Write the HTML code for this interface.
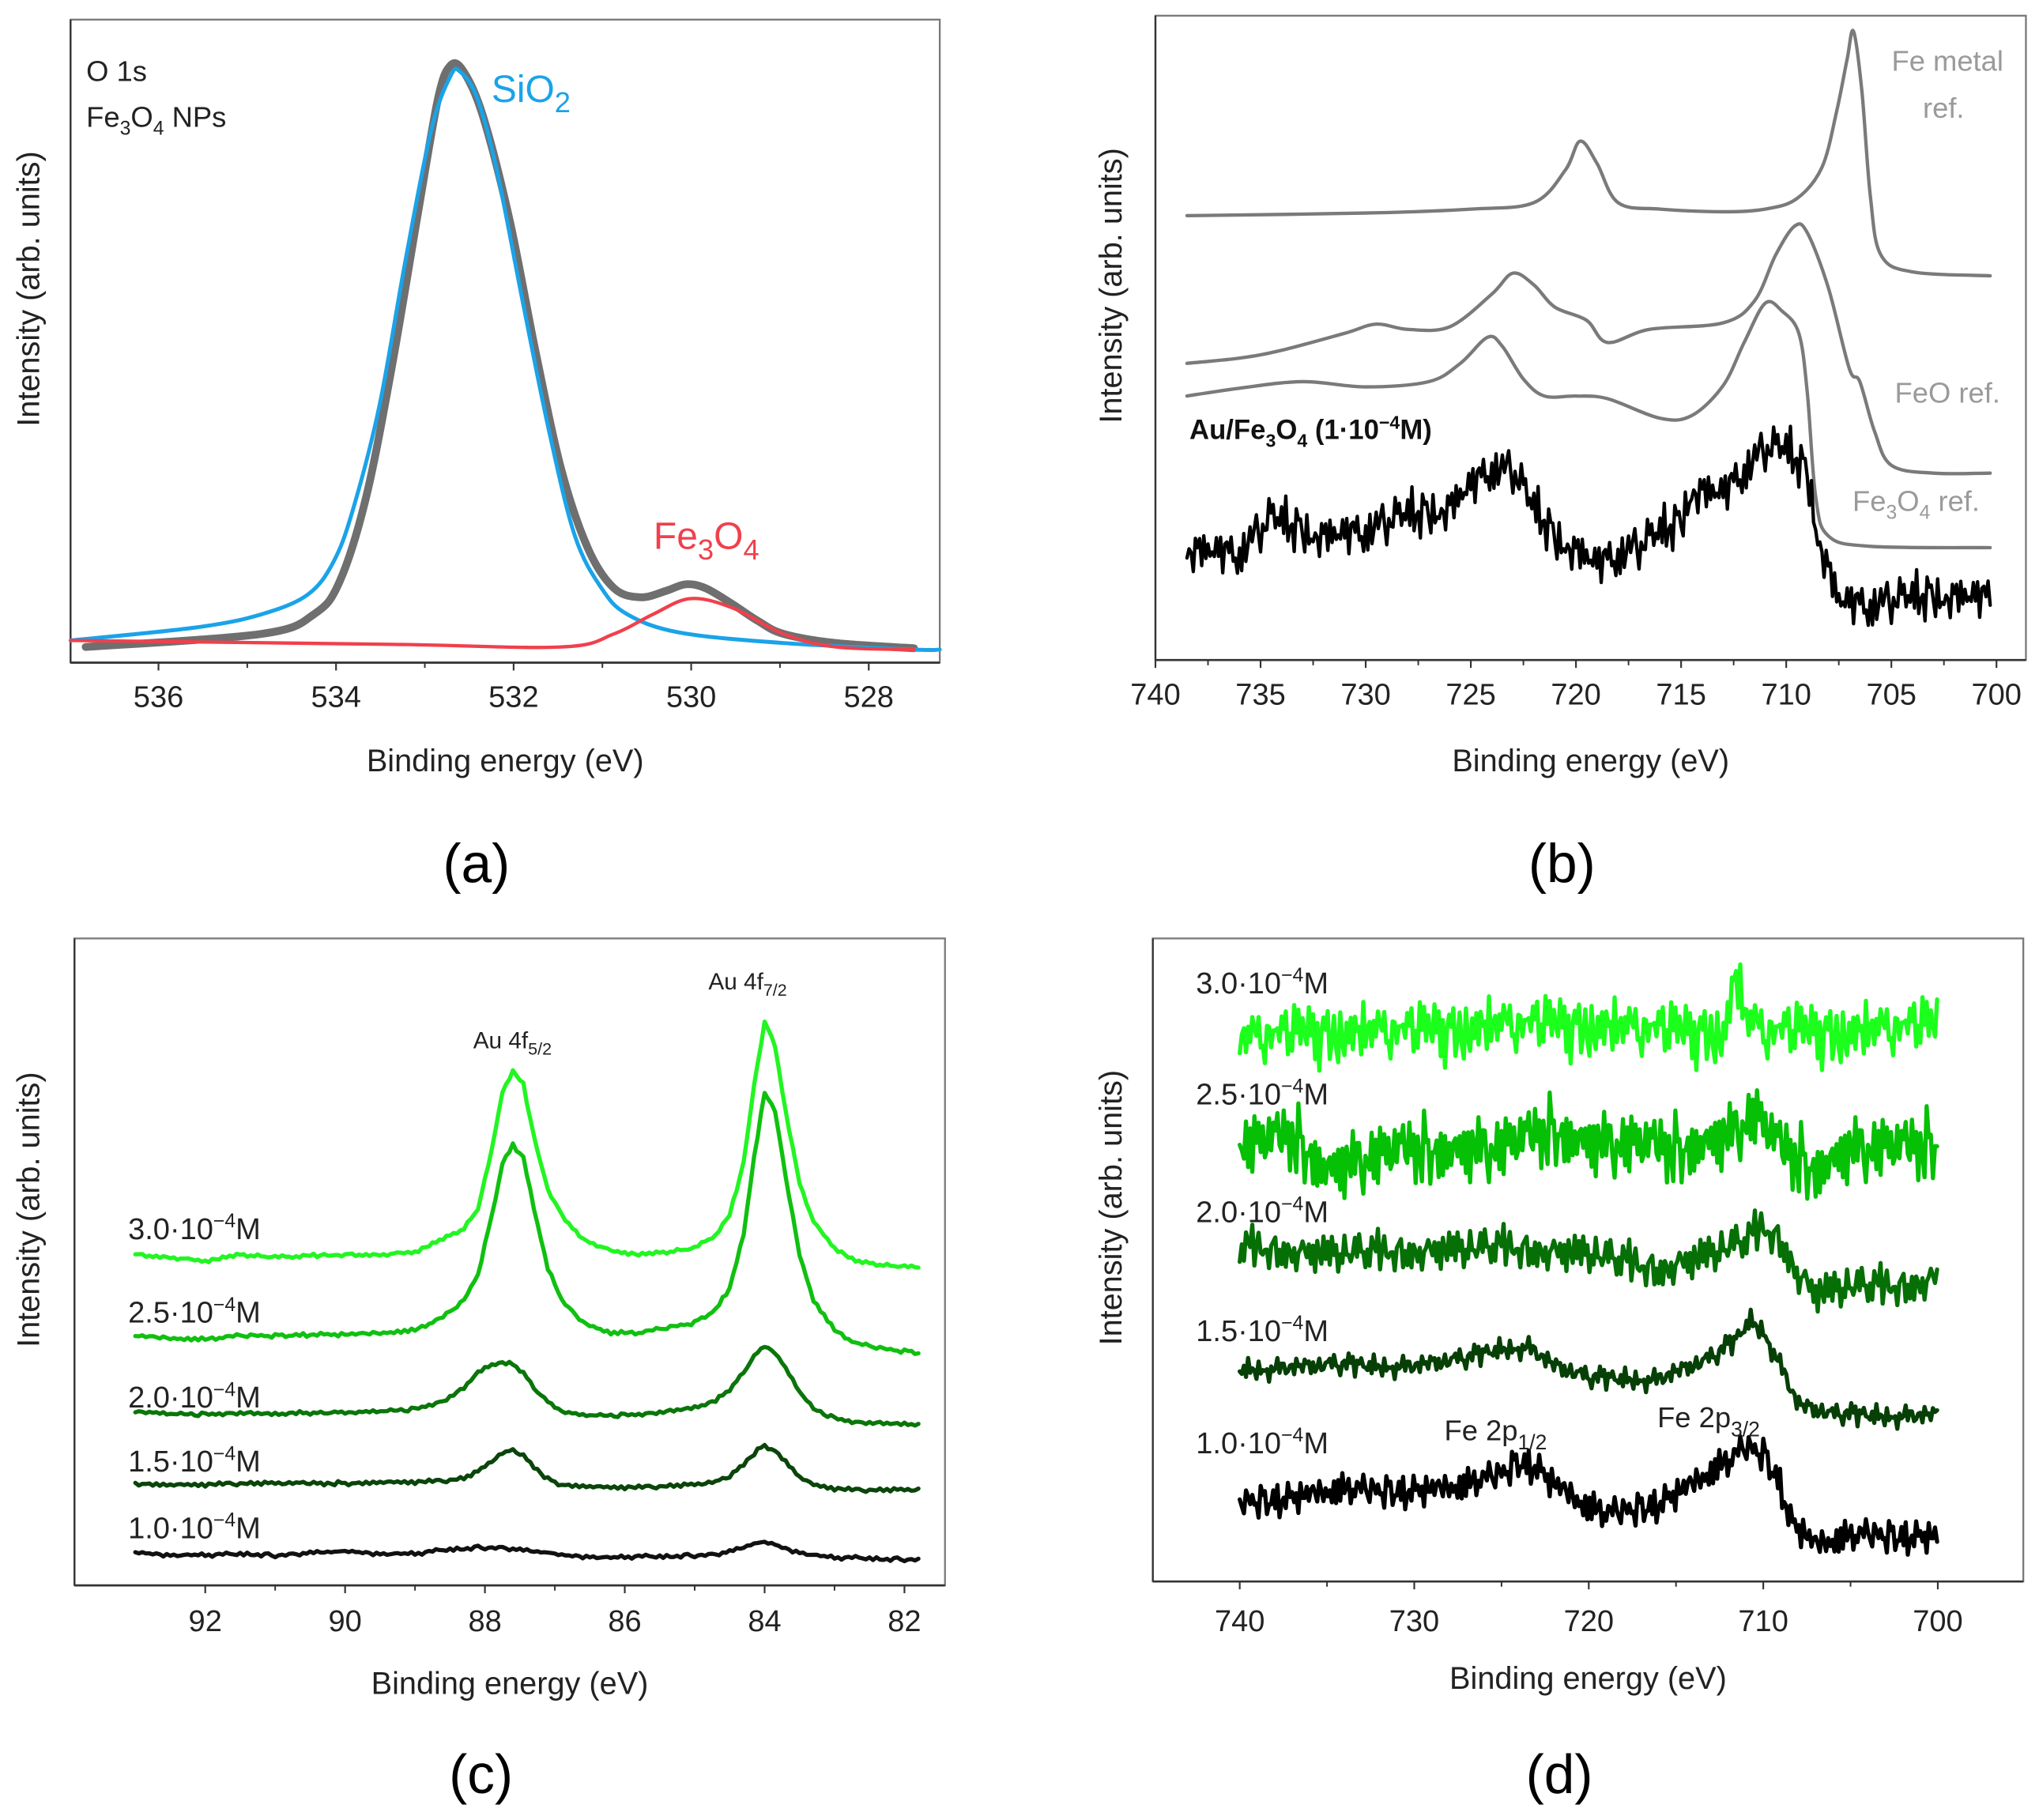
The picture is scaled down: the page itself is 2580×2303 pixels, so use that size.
<!DOCTYPE html>
<html><head><meta charset="utf-8">
<style>
html,body{margin:0;padding:0;background:#fff;}
svg{display:block;}
text{font-family:"Liberation Sans",sans-serif;}
</style></head>
<body>
<svg id="fig" width="2580" height="2303" viewBox="0 0 1560 1392.5" xmlns="http://www.w3.org/2000/svg">
<rect x="0" y="0" width="1560" height="1392.5" fill="#fff"/>
</svg>
<script>
// ---------- Panel (a) data ----------
const aTicks = [536, 534, 532, 530, 528];
const aGrayE = [536.82,534.84,534.25,533.96,533.66,533.37,533.07,532.85,532.71,532.56,532.34,532.04,531.75,531.46,531.16,530.87,530.57,530.28,530.06,529.84,529.54,529.25,528.96,528.37,527.49];
const aGrayV = [12,22,37,62,127,227,347,432,457,452,417,337,237,147,87,57,50,55,60,57,45,32,22,15,11];
const aBlueE = [536.99,535.57,534.84,534.32,534.03,533.81,533.51,533.22,532.93,532.71,532.6,532.41,532.19,531.9,531.6,531.31,531.01,530.72,530.13,528.96,527.49,527.2];
const aBlueV = [17,27,37,52,77,117,197,307,407,449,452,432,377,277,177,97,57,37,23,15,10,10];
const aRedE = [536.99,533.37,531.46,530.87,530.43,530.01,529.54,528.96,528.37,527.49];
const aRedV = [17,14,12,22,37,49,42,22,12,10];

// ---------- Panel (b) data ----------
const bTicks = [740,735,730,725,720,715,710,705,700];
const bMetalE = [738.5,730,725,722,720.5,719.8,719,718,716,713,711,709.5,708.3,707.6,707.1,706.8,706.4,706,705.5,704,700.3];
const bMetalV = [340,342,345,350,375,397,380,350,345,343,345,353,377,420,460,481,435,355,310,297,294];
const bFeOE = [738.5,736,734,731,729.5,728,726,724,723,722,721,719.5,718.5,716.5,713,711.5,710.5,709.6,709,708,707,706.5,705.8,705,703,700.3];
const bFeOV = [227,231,237,250,257,253,255,280,296,287,270,260,243,253,258,275,310,332,327,285,223,213,175,149,143,143];
const bMagE = [738.5,736,733,730,727,725.5,724.2,723.5,722.5,721.5,720,718.5,716,714.5,713,712,711,710.2,709.4,709,708.6,708,706,700.3];
const bMagV = [202,208,213,209,213,227,247,240,215,202,202,200,185,187,210,243,273,267,250,205,125,95,87,86];
const bSampleE = [738.5,736,734.5,732,730,728,726,725,724,723,722,721,719,717,715,714.5,713,711,710,709,708.5,707.5,706,703,700.3];
const bSampleV = [85,80,107,95,97,110,117,133,145,143,115,95,73,85,107,130,127,160,160,145,95,45,40,50,47];

// ---------- Panel (c) data ----------
const cTicks = [92,90,88,86,84,82];
const cE = [93,92.5,92,91.5,91,90.5,90,89.5,89,88.6,88.3,88.1,87.9,87.75,87.6,87.45,87.3,87.1,86.9,86.6,86.2,85.8,85.4,85,84.7,84.5,84.3,84.15,84,83.85,83.7,83.5,83.3,83,82.7,82.3,81.8];
const c30 = [253,251,248,253,251,252,253,253,255,265,273,288,333,378,393,383,343,303,283,265,256,253,255,258,268,283,323,383,431,413,363,308,278,258,248,245,243];
const c25 = [191,189,188,191,191,192,192,193,195,205,218,238,283,323,337,328,288,243,218,201,193,193,197,201,211,228,268,328,377,363,313,253,218,195,185,181,178];
const c20 = [133,131,131,132,131,132,132,133,135,141,151,163,169,170,169,163,151,140,133,130,130,131,133,136,141,150,163,175,183,178,166,148,135,128,125,124,123];
const c15 = [78,77,77,78,78,78,78,79,79,80,82,87,95,101,103,99,91,81,77,76,75,75,76,77,79,83,93,101,107,103,95,83,77,74,73,73,73];
const c10 = [25,23,23,24,23,25,26,24,24,27,28,29,29,29,28,27,26,25,23,22,21,22,22,23,24,26,29,32,33,31,28,25,23,21,21,20,20];

// ---------- Panel (d) data ----------
const dTicks = [740,730,720,710,700];
const d30E = [740,735,730,725,720,715,712.2,711.6,711,710,705,700];
const d30V = [415,420,420,425,425,420,420,465,430,420,420,425];
const d25E = [740,737,735,730,725,722,720,715,712,710.5,709,707,705,702,700];
const d25V = [330,340,315,330,330,345,335,330,340,355,330,315,330,330,335];
const d20E = [740,735,730,725,720,716,713,711,710,709,708,707,705,702,700];
const d20V = [255,250,252,255,250,238,250,260,270,260,235,220,225,225,232];
const d15E = [740,735,730,727,725,723.5,722,720,716,713,711.5,710.8,710,709,708,706,700];
const d15V = [162,165,165,170,178,180,165,155,155,170,185,200,192,165,135,127,127];
const d10E = [740,735,730,727,725,724,723,722,720,719,716,714,712,711,710,709,708.5,707,704,700];
const d10V = [60,68,70,72,82,92,88,75,55,50,60,75,90,102,98,75,48,28,35,35];
// hand-typed measurement noise pattern
const noisePattern = [0.2,-0.5,0.8,-0.3,0.1,-0.9,0.6,0.3,-0.7,0.9,-0.2,0.4,-0.8,0.5,-0.1,0.7,-0.6,0.2,-0.4,1.0,-0.3,0.6,-0.9,0.1,0.4,-0.5,0.8,-0.2,0.3,-0.7,0.5,-1.0,0.6,0.0,-0.4,0.9,-0.6,0.2,0.7,-0.3,-0.8,0.4,0.1,-0.5,0.8,-0.1,0.3,-0.9,0.6,-0.2,0.5,-0.6,0.9,-0.4,0.0,0.7,-0.7,0.3,-0.1,0.5];

const NS = "http://www.w3.org/2000/svg";
const svg = document.getElementById('fig');

function mk(tag, attrs, parent) {
  const el = document.createElementNS(NS, tag);
  for (const k in attrs) el.setAttribute(k, attrs[k]);
  (parent || svg).appendChild(el);
  return el;
}
function txt(parent, x, y, s, size, fill, anchor, extra) {
  const t = mk('text', Object.assign({x:x, y:y, 'font-size':size, fill:fill, 'text-anchor':anchor||'start'}, extra||{}), parent);
  t.innerHTML = s;
  return t;
}
function makeAxis(p) {
  p.xs = e => p.x0 + (p.eL - e) / (p.eL - p.eR) * (p.x1 - p.x0);
  p.ys = v => p.y1 - v;
  return p;
}
function interp(E, V, e) {
  for (let i = 0; i < E.length - 1; i++) {
    if ((e <= E[i] && e >= E[i+1])) {
      const t = (E[i] - e) / (E[i] - E[i+1]);
      return V[i] + t * (V[i+1] - V[i]);
    }
  }
  return e > E[0] ? V[0] : V[V.length - 1];
}
function smoothPath(ax, E, V) {
  const P = E.map((e, i) => [ax.xs(e), ax.ys(V[i])]);
  let d = 'M' + P[0][0].toFixed(2) + ',' + P[0][1].toFixed(2);
  for (let i = 0; i < P.length - 1; i++) {
    const p0 = P[Math.max(0, i-1)], p1 = P[i], p2 = P[i+1], p3 = P[Math.min(P.length-1, i+2)];
    const c1 = [p1[0] + (p2[0]-p0[0])/6, p1[1] + (p2[1]-p0[1])/6];
    const c2 = [p2[0] - (p3[0]-p1[0])/6, p2[1] - (p3[1]-p1[1])/6];
    d += 'C' + c1.map(n=>n.toFixed(2)).join(',') + ' ' + c2.map(n=>n.toFixed(2)).join(',') + ' ' + p2[0].toFixed(2) + ',' + p2[1].toFixed(2);
  }
  return d;
}
function noisyPath(ax, E, V, amp, offset, step) {
  const eStart = E[0], eEnd = E[E.length-1];
  let d = '', i = 0;
  for (let e = eStart; e >= eEnd - 1e-9; e -= step, i++) {
    const n = noisePattern[(i + offset) % noisePattern.length] * 0.7 + noisePattern[(i * 7 + offset * 3) % noisePattern.length] * 0.45;
    const v = interp(E, V, e) + amp * n;
    d += (i ? 'L' : 'M') + ax.xs(e).toFixed(2) + ',' + ax.ys(v).toFixed(2);
  }
  return d;
}
function frame(g, ax, ticks, minorStep, labelY) {
  mk('rect', {x:ax.x0, y:ax.y0, width:ax.x1-ax.x0, height:ax.y1-ax.y0, fill:'none', stroke:'#7a7a7a', 'stroke-width':1.4}, g);
  mk('line', {x1:ax.x0, y1:ax.y1, x2:ax.x1, y2:ax.y1, stroke:'#333', 'stroke-width':1.6}, g);
  mk('line', {x1:ax.x0, y1:ax.y0, x2:ax.x0, y2:ax.y1, stroke:'#333', 'stroke-width':1.4}, g);
  ticks.forEach(t => {
    const x = ax.xs(t);
    const tk = mk('line', {x1:x, y1:ax.y1, x2:x, y2:ax.y1+6, stroke:'#333', 'stroke-width':1.3}, g);
    
    
    const lb = txt(g, x, labelY, String(t), 23, '#222', 'middle');
    
    
    const mx = ax.xs(t + minorStep);
    if (mx > ax.x0 + 1 && mx < ax.x1 - 1) {
      const m = mk('line', {x1:mx, y1:ax.y1, x2:mx, y2:ax.y1+4, stroke:'#333', 'stroke-width':1.2}, g);
      
      
    }
  });
}
function titles(g, ax, xTitleY, yTitleX, letter, letterY) {
  const cx = (ax.x0 + ax.x1) / 2;
  const xt = txt(g, cx, xTitleY, 'Binding energy (eV)', 24, '#222', 'middle');
  
  
  const cy = (ax.y0 + ax.y1) / 2 - 40;
  const yt = txt(g, yTitleX, cy, 'Intensity (arb. units)', 24, '#222', 'middle', {transform:'rotate(-90 ' + yTitleX + ' ' + cy + ')'});
  
  
  const pl = txt(g, cx - 22, letterY, letter, 42, '#000', 'middle');
  
  
}
function line(g, d, color, w, name) {
  const p = mk('path', {d:d, fill:'none', stroke:color, 'stroke-width':w, 'stroke-linejoin':'round', 'stroke-linecap':'round'}, g);
  
  
  return p;
}

// ===== Panel a =====
const ga = mk('g', {});


const axA = makeAxis({x0:54, x1:719, y0:15, y1:507, eL:536.99, eR:527.2});
frame(ga, axA, aTicks, -1, 541);
titles(ga, axA, 590, 30, '(a)', 675);
line(ga, smoothPath(axA, aGrayE, aGrayV), '#6f6f6f', 6, 'measured-spectrum');
line(ga, smoothPath(axA, aBlueE, aBlueV), '#1aa3e8', 3, 'sio2-fit');
line(ga, smoothPath(axA, aRedE, aRedV), '#f0404c', 2.6, 'fe3o4-fit');
let t;
t = txt(ga, 66, 62, 'O 1s', 22, '#222');  
t = txt(ga, 66, 97, 'Fe<tspan font-size="15" dy="6">3</tspan><tspan dy="-6">O</tspan><tspan font-size="15" dy="6">4</tspan><tspan dy="-6"> NPs</tspan>', 22, '#222');  
t = txt(ga, 376, 78, 'SiO<tspan font-size="22" dy="8">2</tspan>', 29, '#1aa3e8');  
t = txt(ga, 500, 420, 'Fe<tspan font-size="22" dy="8">3</tspan><tspan dy="-8">O</tspan><tspan font-size="22" dy="8">4</tspan>', 29, '#f0404c');  

// ===== Panel b =====
const gb = mk('g', {});


const axB = makeAxis({x0:884, x1:1550, y0:12, y1:505, eL:740.0, eR:698.6});
frame(gb, axB, bTicks, -2.5, 539);
titles(gb, axB, 590, 858, '(b)', 675);
line(gb, smoothPath(axB, bMetalE, bMetalV), '#7a7a7a', 2.6, 'fe-metal-ref');
line(gb, smoothPath(axB, bFeOE, bFeOV), '#7a7a7a', 2.6, 'feo-ref');
line(gb, smoothPath(axB, bMagE, bMagV), '#7a7a7a', 2.6, 'fe3o4-ref');
line(gb, noisyPath(axB, bSampleE, bSampleV, 22, 5, 0.1), '#000', 2.6, 'au-fe3o4-spectrum');
t = txt(gb, 1490, 54, 'Fe metal', 22, '#9a9a9a', 'middle');  
t = txt(gb, 1487, 90, 'ref.', 22, '#9a9a9a', 'middle');  
t = txt(gb, 1490, 308, 'FeO ref.', 22, '#9a9a9a', 'middle');  
t = txt(gb, 1466, 391, 'Fe<tspan font-size="15" dy="6">3</tspan><tspan dy="-6">O</tspan><tspan font-size="15" dy="6">4</tspan><tspan dy="-6"> ref.</tspan>', 22, '#9a9a9a', 'middle');  
t = txt(gb, 910, 336, 'Au/Fe<tspan font-size="14" dy="6">3</tspan><tspan dy="-6">O</tspan><tspan font-size="14" dy="6">4</tspan><tspan dy="-6"> (1·10</tspan><tspan font-size="14" dy="-8">−4</tspan><tspan dy="8">M)</tspan>', 21, '#111', 'start', {'font-weight':'bold'});  

// ===== Panel c =====
const gc = mk('g', {});


const axC = makeAxis({x0:57, x1:723, y0:718, y1:1213, eL:93.87, eR:81.42});
frame(gc, axC, cTicks, -1, 1248);
titles(gc, axC, 1296, 30, '(c)', 1372);
const cSeries = [[c10,'#111111','1.0'],[c15,'#0a450a','1.5'],[c20,'#0a760a','2.0'],[c25,'#10c010','2.5'],[c30,'#22f522','3.0']];
cSeries.forEach((s, k) => {
  line(gc, noisyPath(axC, cE, s[0], 1.6, k * 11, 0.05), s[1], 3.2, 'au4f-spectrum-' + s[2].replace('.','-'));
});
const cLabY = [1177,1126,1077,1012,948];
cSeries.forEach((s, i) => {
  const l = txt(gc, 98, cLabY[i], s[2] + '·10<tspan font-size="15" dy="-9">−4</tspan><tspan dy="9">M</tspan>', 23, '#222');
  
  
});
t = txt(gc, 362, 802, 'Au 4f<tspan font-size="13" dy="5">5/2</tspan>', 18, '#222');  
t = txt(gc, 542, 757, 'Au 4f<tspan font-size="13" dy="5">7/2</tspan>', 18, '#222');  

// ===== Panel d =====
const gd = mk('g', {});


const axD = makeAxis({x0:882, x1:1548, y0:718, y1:1210, eL:744.98, eR:695.1});
frame(gd, axD, dTicks, -5, 1248);
titles(gd, axD, 1292, 858, '(d)', 1372);
const dSeries = [
  [d10E, d10V, 14, 3, '#000000', '1.0', 1112],
  [d15E, d15V, 10, 17, '#064006', '1.5', 1026],
  [d20E, d20V, 18, 29, '#067006', '2.0', 935],
  [d25E, d25V, 28, 41, '#05c005', '2.5', 845],
  [d30E, d30V, 26, 53, '#1cff1c', '3.0', 760]
];
dSeries.forEach(s => {
  line(gd, noisyPath(axD, s[0], s[1], s[2], s[3], 0.12), s[4], 3.2, 'fe2p-spectrum-' + s[5].replace('.','-'));
  const l = txt(gd, 915, s[6], s[5] + '·10<tspan font-size="15" dy="-9">−4</tspan><tspan dy="9">M</tspan>', 23, '#222');
  
  
});
t = txt(gd, 1105, 1102, 'Fe 2p<tspan font-size="16" dy="7">1/2</tspan>', 22, '#222');  
t = txt(gd, 1268, 1092, 'Fe 2p<tspan font-size="16" dy="7">3/2</tspan>', 22, '#222');  
</script>
</body></html>
